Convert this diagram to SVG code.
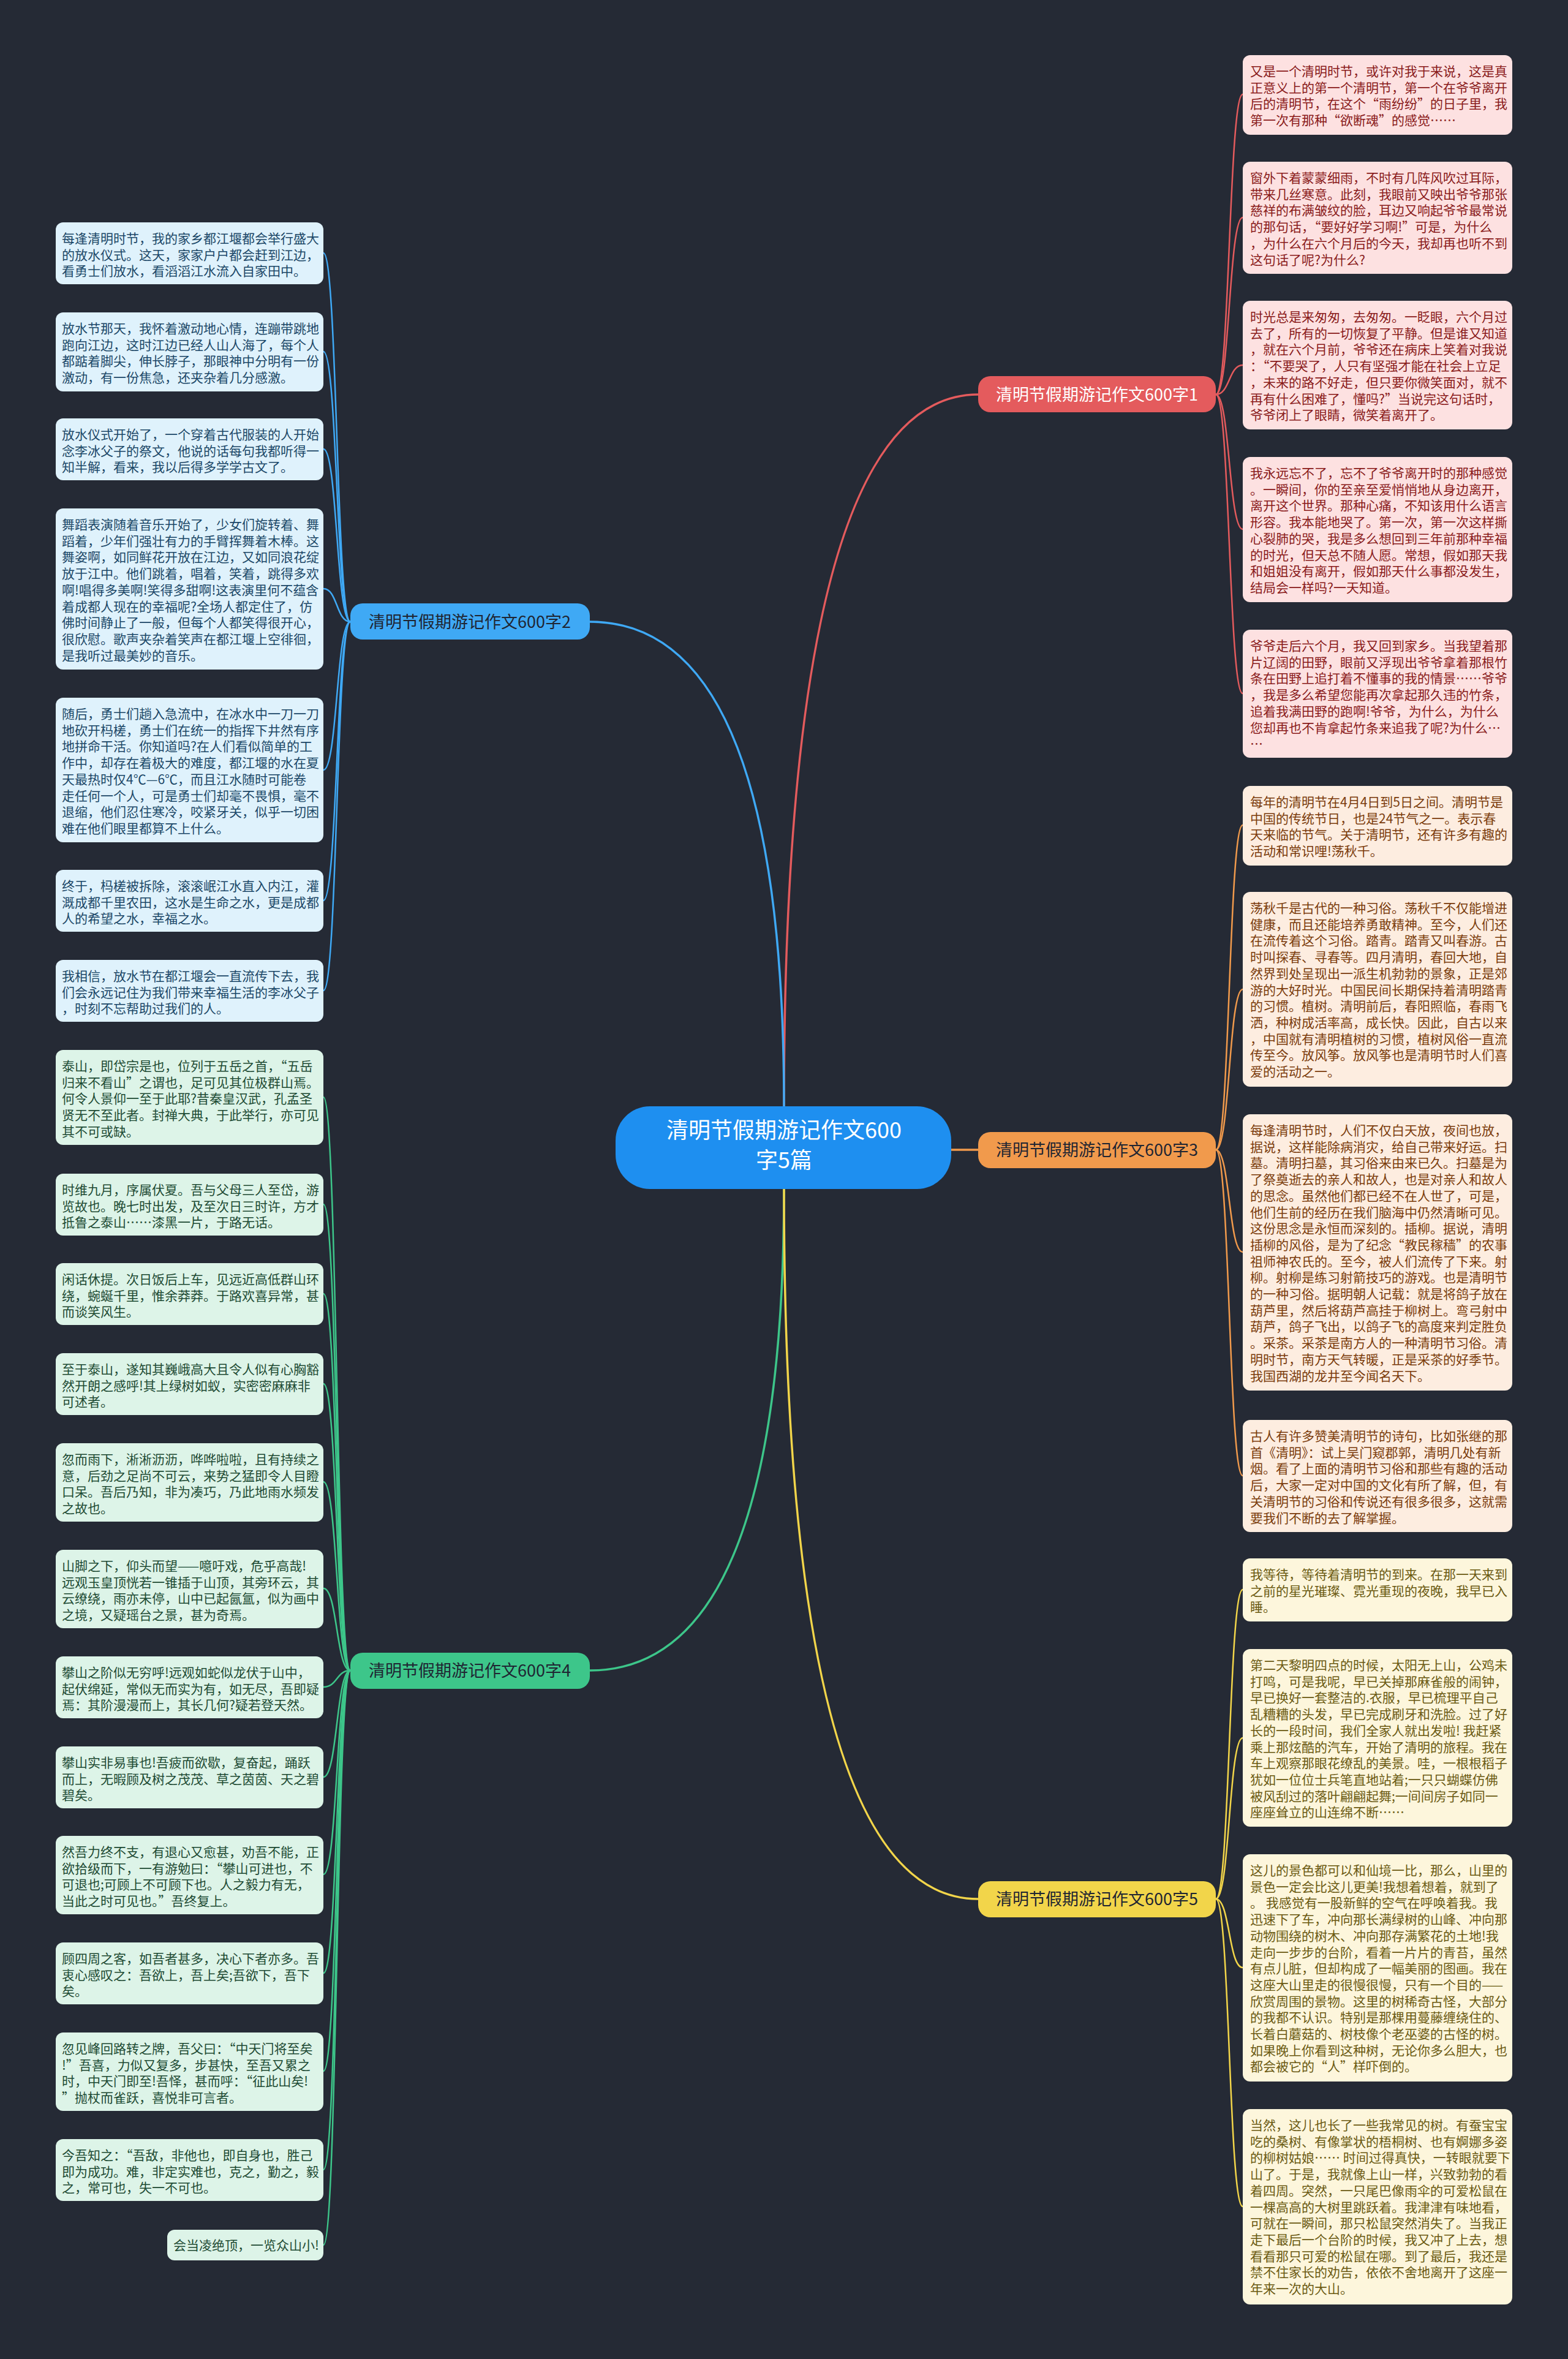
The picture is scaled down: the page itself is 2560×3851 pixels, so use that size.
<svg xmlns="http://www.w3.org/2000/svg" width="2560" height="3851" viewBox="0 0 2560 3851">
<style>
text{font-family:"Noto Sans CJK SC","Noto Sans",sans-serif;}
.lt{font-size:21px;}
.br{font-size:27px;text-anchor:middle;}
.ct{font-size:36px;text-anchor:middle;fill:#ffffff;}
.rb{fill:#fde1e1;} .rt{fill:#8a1b1b;}
.bb{fill:#dff2fc;} .bt{fill:#1c4868;}
.ob{fill:#fdede0;} .ot{fill:#7b3c0c;}
.gb{fill:#ddf4e8;} .gt{fill:#1e4b34;}
.yb{fill:#fdf6dc;} .yt{fill:#6b5a12;}
.c{fill:none;stroke-width:2.5;}
.cm{fill:none;stroke-width:3.5;}
.sr{stroke:#e45b5d;} .sb{stroke:#3fa9f5;} .so{stroke:#f19a4c;} .sg{stroke:#3dc68a;} .sy{stroke:#f2d54a;}
</style>
<rect x="0" y="0" width="2560" height="3851" fill="#252a35"/>

<g id="connectors">
<path class="cm sr" d="M1280 1806 Q1280 644 1597 644"/>
<path class="cm sb" d="M1280 1806 Q1280 1015 963 1015"/>
<path class="cm so" d="M1553 1877 L1597 1877"/>
<path class="cm sg" d="M1280 1941 Q1280 2727 963 2727"/>
<path class="cm sy" d="M1280 1941 Q1280 3100 1597 3100"/>

<path class="c sr" d="M1985 644 C2008 644 2006 154 2029 154"/>
<path class="c sr" d="M1985 644 C2008 644 2006 355 2029 355"/>
<path class="c sr" d="M1985 644 C2008 644 2006 596 2029 596"/>
<path class="c sr" d="M1985 644 C2008 644 2006 864 2029 864"/>
<path class="c sr" d="M1985 644 C2008 644 2006 1132 2029 1132"/>

<path class="c so" d="M1985 1877 C2008 1877 2006 1347 2029 1347"/>
<path class="c so" d="M1985 1877 C2008 1877 2006 1615 2029 1615"/>
<path class="c so" d="M1985 1877 C2008 1877 2006 2044 2029 2044"/>
<path class="c so" d="M1985 1877 C2008 1877 2006 2409 2029 2409"/>

<path class="c sy" d="M1985 3100 C2008 3100 2006 2595 2029 2595"/>
<path class="c sy" d="M1985 3100 C2008 3100 2006 2837 2029 2837"/>
<path class="c sy" d="M1985 3100 C2008 3100 2006 3212 2029 3212"/>
<path class="c sy" d="M1985 3100 C2008 3100 2006 3602 2029 3602"/>

<path class="c sb" d="M572 1015 C549 1015 551 413 528 413"/>
<path class="c sb" d="M572 1015 C549 1015 551 574 528 574"/>
<path class="c sb" d="M572 1015 C549 1015 551 733 528 733"/>
<path class="c sb" d="M572 1015 C549 1015 551 961 528 961"/>
<path class="c sb" d="M572 1015 C549 1015 551 1257 528 1257"/>
<path class="c sb" d="M572 1015 C549 1015 551 1470 528 1470"/>
<path class="c sb" d="M572 1015 C549 1015 551 1617 528 1617"/>

<path class="c sg" d="M572 2727 C549 2727 551 1791 528 1791"/>
<path class="c sg" d="M572 2727 C549 2727 551 1966 528 1966"/>
<path class="c sg" d="M572 2727 C549 2727 551 2112 528 2112"/>
<path class="c sg" d="M572 2727 C549 2727 551 2259 528 2259"/>
<path class="c sg" d="M572 2727 C549 2727 551 2419 528 2419"/>
<path class="c sg" d="M572 2727 C549 2727 551 2593 528 2593"/>
<path class="c sg" d="M572 2727 C549 2727 551 2754 528 2754"/>
<path class="c sg" d="M572 2727 C549 2727 551 2901 528 2901"/>
<path class="c sg" d="M572 2727 C549 2727 551 3060 528 3060"/>
<path class="c sg" d="M572 2727 C549 2727 551 3221 528 3221"/>
<path class="c sg" d="M572 2727 C549 2727 551 3381 528 3381"/>
<path class="c sg" d="M572 2727 C549 2727 551 3542 528 3542"/>
<path class="c sg" d="M572 2727 C549 2727 551 3665 528 3665"/>
</g>

<g id="root">
<rect x="1005" y="1806" width="548" height="135" rx="56" fill="#1e8ff0"/>
<text class="ct" x="1280" y="1858">清明节假期游记作文600</text>
<text class="ct" x="1280" y="1907">字5篇</text>
</g>

<g id="branch1"><rect x="1597" y="614" width="388" height="59" rx="20" fill="#e45b5d"/><text class="br" x="1791" y="654" fill="#ffffff">清明节假期游记作文600字1</text></g>
<g id="branch2"><rect x="572" y="985" width="391" height="59" rx="20" fill="#3fa9f5"/><text class="br" x="767" y="1025" fill="#1f2532">清明节假期游记作文600字2</text></g>
<g id="branch3"><rect x="1597" y="1848" width="388" height="59" rx="20" fill="#f19a4c"/><text class="br" x="1791" y="1887" fill="#1f2532">清明节假期游记作文600字3</text></g>
<g id="branch4"><rect x="572" y="2698" width="391" height="59" rx="20" fill="#3dc68a"/><text class="br" x="767" y="2737" fill="#1f2532">清明节假期游记作文600字4</text></g>
<g id="branch5"><rect x="1597" y="3071" width="388" height="59" rx="20" fill="#f2d54a"/><text class="br" x="1791" y="3110" fill="#1f2532">清明节假期游记作文600字5</text></g>

<g id="r1"><rect class="rb" x="2029" y="90" width="440" height="130" rx="12"/><text class="lt rt" y="124"><tspan x="2041">又是一个清明时节，或许对我于来说，这是真</tspan><tspan x="2041" dy="26.7">正意义上的第一个清明节，第一个在爷爷离开</tspan><tspan x="2041" dy="26.7">后的清明节，在这个“雨纷纷”的日子里，我</tspan><tspan x="2041" dy="26.7">第一次有那种“欲断魂”的感觉……</tspan></text></g>
<g id="r2"><rect class="rb" x="2029" y="264" width="440" height="183" rx="12"/><text class="lt rt" y="298"><tspan x="2041">窗外下着蒙蒙细雨，不时有几阵风吹过耳际，</tspan><tspan x="2041" dy="26.7">带来几丝寒意。此刻，我眼前又映出爷爷那张</tspan><tspan x="2041" dy="26.7">慈祥的布满皱纹的脸，耳边又响起爷爷最常说</tspan><tspan x="2041" dy="26.7">的那句话，“要好好学习啊!”可是，为什么</tspan><tspan x="2041" dy="26.7">，为什么在六个月后的今天，我却再也听不到</tspan><tspan x="2041" dy="26.7">这句话了呢?为什么?</tspan></text></g>
<g id="r3"><rect class="rb" x="2029" y="491" width="440" height="210" rx="12"/><text class="lt rt" y="525"><tspan x="2041">时光总是来匆匆，去匆匆。一眨眼，六个月过</tspan><tspan x="2041" dy="26.7">去了，所有的一切恢复了平静。但是谁又知道</tspan><tspan x="2041" dy="26.7">，就在六个月前，爷爷还在病床上笑着对我说</tspan><tspan x="2041" dy="26.7">：“不要哭了，人只有坚强才能在社会上立足</tspan><tspan x="2041" dy="26.7">，未来的路不好走，但只要你微笑面对，就不</tspan><tspan x="2041" dy="26.7">再有什么困难了，懂吗?”当说完这句话时，</tspan><tspan x="2041" dy="26.7">爷爷闭上了眼睛，微笑着离开了。</tspan></text></g>
<g id="r4"><rect class="rb" x="2029" y="746" width="440" height="237" rx="12"/><text class="lt rt" y="780"><tspan x="2041">我永远忘不了，忘不了爷爷离开时的那种感觉</tspan><tspan x="2041" dy="26.7">。一瞬间，你的至亲至爱悄悄地从身边离开，</tspan><tspan x="2041" dy="26.7">离开这个世界。那种心痛，不知该用什么语言</tspan><tspan x="2041" dy="26.7">形容。我本能地哭了。第一次，第一次这样撕</tspan><tspan x="2041" dy="26.7">心裂肺的哭，我是多么想回到三年前那种幸福</tspan><tspan x="2041" dy="26.7">的时光，但天总不随人愿。常想，假如那天我</tspan><tspan x="2041" dy="26.7">和姐姐没有离开，假如那天什么事都没发生，</tspan><tspan x="2041" dy="26.7">结局会一样吗?一天知道。</tspan></text></g>
<g id="r5"><rect class="rb" x="2029" y="1028" width="440" height="209" rx="12"/><text class="lt rt" y="1062"><tspan x="2041">爷爷走后六个月，我又回到家乡。当我望着那</tspan><tspan x="2041" dy="26.7">片辽阔的田野，眼前又浮现出爷爷拿着那根竹</tspan><tspan x="2041" dy="26.7">条在田野上追打着不懂事的我的情景……爷爷</tspan><tspan x="2041" dy="26.7">，我是多么希望您能再次拿起那久违的竹条，</tspan><tspan x="2041" dy="26.7">追着我满田野的跑啊!爷爷，为什么，为什么</tspan><tspan x="2041" dy="26.7">您却再也不肯拿起竹条来追我了呢?为什么…</tspan><tspan x="2041" dy="26.7">…</tspan></text></g>

<g id="o1"><rect class="ob" x="2029" y="1283" width="440" height="130" rx="12"/><text class="lt ot" y="1317"><tspan x="2041">每年的清明节在4月4日到5日之间。清明节是</tspan><tspan x="2041" dy="26.7">中国的传统节日，也是24节气之一。表示春</tspan><tspan x="2041" dy="26.7">天来临的节气。关于清明节，还有许多有趣的</tspan><tspan x="2041" dy="26.7">活动和常识哩!荡秋千。</tspan></text></g>
<g id="o2"><rect class="ob" x="2029" y="1456" width="440" height="318" rx="12"/><text class="lt ot" y="1490"><tspan x="2041">荡秋千是古代的一种习俗。荡秋千不仅能增进</tspan><tspan x="2041" dy="26.7">健康，而且还能培养勇敢精神。至今，人们还</tspan><tspan x="2041" dy="26.7">在流传着这个习俗。踏青。踏青又叫春游。古</tspan><tspan x="2041" dy="26.7">时叫探春、寻春等。四月清明，春回大地，自</tspan><tspan x="2041" dy="26.7">然界到处呈现出一派生机勃勃的景象，正是郊</tspan><tspan x="2041" dy="26.7">游的大好时光。中国民间长期保持着清明踏青</tspan><tspan x="2041" dy="26.7">的习惯。植树。清明前后，春阳照临，春雨飞</tspan><tspan x="2041" dy="26.7">洒，种树成活率高，成长快。因此，自古以来</tspan><tspan x="2041" dy="26.7">，中国就有清明植树的习惯，植树风俗一直流</tspan><tspan x="2041" dy="26.7">传至今。放风筝。放风筝也是清明节时人们喜</tspan><tspan x="2041" dy="26.7">爱的活动之一。</tspan></text></g>
<g id="o3"><rect class="ob" x="2029" y="1819" width="440" height="451" rx="12"/><text class="lt ot" y="1853"><tspan x="2041">每逢清明节时，人们不仅白天放，夜间也放，</tspan><tspan x="2041" dy="26.7">据说，这样能除病消灾，给自己带来好运。扫</tspan><tspan x="2041" dy="26.7">墓。清明扫墓，其习俗来由来已久。扫墓是为</tspan><tspan x="2041" dy="26.7">了祭奠逝去的亲人和故人，也是对亲人和故人</tspan><tspan x="2041" dy="26.7">的思念。虽然他们都已经不在人世了，可是，</tspan><tspan x="2041" dy="26.7">他们生前的经历在我们脑海中仍然清晰可见。</tspan><tspan x="2041" dy="26.7">这份思念是永恒而深刻的。插柳。据说，清明</tspan><tspan x="2041" dy="26.7">插柳的风俗，是为了纪念“教民稼穑”的农事</tspan><tspan x="2041" dy="26.7">祖师神农氏的。至今，被人们流传了下来。射</tspan><tspan x="2041" dy="26.7">柳。射柳是练习射箭技巧的游戏。也是清明节</tspan><tspan x="2041" dy="26.7">的一种习俗。据明朝人记载：就是将鸽子放在</tspan><tspan x="2041" dy="26.7">葫芦里，然后将葫芦高挂于柳树上。弯弓射中</tspan><tspan x="2041" dy="26.7">葫芦，鸽子飞出，以鸽子飞的高度来判定胜负</tspan><tspan x="2041" dy="26.7">。采茶。采茶是南方人的一种清明节习俗。清</tspan><tspan x="2041" dy="26.7">明时节，南方天气转暖，正是采茶的好季节。</tspan><tspan x="2041" dy="26.7">我国西湖的龙井至今闻名天下。</tspan></text></g>
<g id="o4"><rect class="ob" x="2029" y="2318" width="440" height="183" rx="12"/><text class="lt ot" y="2352"><tspan x="2041">古人有许多赞美清明节的诗句，比如张继的那</tspan><tspan x="2041" dy="26.7">首《清明》：试上吴门窥郡郭，清明几处有新</tspan><tspan x="2041" dy="26.7">烟。看了上面的清明节习俗和那些有趣的活动</tspan><tspan x="2041" dy="26.7">后，大家一定对中国的文化有所了解，但，有</tspan><tspan x="2041" dy="26.7">关清明节的习俗和传说还有很多很多，这就需</tspan><tspan x="2041" dy="26.7">要我们不断的去了解掌握。</tspan></text></g>

<g id="y1"><rect class="yb" x="2029" y="2544" width="440" height="103" rx="12"/><text class="lt yt" y="2578"><tspan x="2041">我等待，等待着清明节的到来。在那一天来到</tspan><tspan x="2041" dy="26.7">之前的星光璀璨、霓光重现的夜晚，我早已入</tspan><tspan x="2041" dy="26.7">睡。</tspan></text></g>
<g id="y2"><rect class="yb" x="2029" y="2692" width="440" height="290" rx="12"/><text class="lt yt" y="2726"><tspan x="2041">第二天黎明四点的时候，太阳无上山，公鸡未</tspan><tspan x="2041" dy="26.7">打鸣，可是我呢，早已关掉那麻雀般的闹钟，</tspan><tspan x="2041" dy="26.7">早已换好一套整洁的.衣服，早已梳理平自己</tspan><tspan x="2041" dy="26.7">乱糟糟的头发，早已完成刷牙和洗脸。过了好</tspan><tspan x="2041" dy="26.7">长的一段时间，我们全家人就出发啦! 我赶紧</tspan><tspan x="2041" dy="26.7">乘上那炫酷的汽车，开始了清明的旅程。我在</tspan><tspan x="2041" dy="26.7">车上观察那眼花缭乱的美景。哇，一根根稻子</tspan><tspan x="2041" dy="26.7">犹如一位位士兵笔直地站着;一只只蝴蝶仿佛</tspan><tspan x="2041" dy="26.7">被风刮过的落叶翩翩起舞;一间间房子如同一</tspan><tspan x="2041" dy="26.7">座座耸立的山连绵不断……</tspan></text></g>
<g id="y3"><rect class="yb" x="2029" y="3027" width="440" height="371" rx="12"/><text class="lt yt" y="3061"><tspan x="2041">这儿的景色都可以和仙境一比，那么，山里的</tspan><tspan x="2041" dy="26.7">景色一定会比这儿更美!我想着想着，就到了</tspan><tspan x="2041" dy="26.7">。 我感觉有一股新鲜的空气在呼唤着我。我</tspan><tspan x="2041" dy="26.7">迅速下了车，冲向那长满绿树的山峰、冲向那</tspan><tspan x="2041" dy="26.7">动物围绕的树木、冲向那存满繁花的土地!我</tspan><tspan x="2041" dy="26.7">走向一步步的台阶，看着一片片的青苔，虽然</tspan><tspan x="2041" dy="26.7">有点儿脏，但却构成了一幅美丽的图画。我在</tspan><tspan x="2041" dy="26.7">这座大山里走的很慢很慢，只有一个目的——</tspan><tspan x="2041" dy="26.7">欣赏周围的景物。这里的树稀奇古怪，大部分</tspan><tspan x="2041" dy="26.7">的我都不认识。特别是那棵用蔓藤缠绕住的、</tspan><tspan x="2041" dy="26.7">长着白蘑菇的、树枝像个老巫婆的古怪的树。</tspan><tspan x="2041" dy="26.7">如果晚上你看到这种树，无论你多么胆大，也</tspan><tspan x="2041" dy="26.7">都会被它的“人”样吓倒的。</tspan></text></g>
<g id="y4"><rect class="yb" x="2029" y="3443" width="440" height="319" rx="12"/><text class="lt yt" y="3477"><tspan x="2041">当然，这儿也长了一些我常见的树。有蚕宝宝</tspan><tspan x="2041" dy="26.7">吃的桑树、有像掌状的梧桐树、也有婀娜多姿</tspan><tspan x="2041" dy="26.7">的柳树姑娘…… 时间过得真快，一转眼就要下</tspan><tspan x="2041" dy="26.7">山了。于是，我就像上山一样，兴致勃勃的看</tspan><tspan x="2041" dy="26.7">着四周。突然，一只尾巴像雨伞的可爱松鼠在</tspan><tspan x="2041" dy="26.7">一棵高高的大树里跳跃着。我津津有味地看，</tspan><tspan x="2041" dy="26.7">可就在一瞬间，那只松鼠突然消失了。当我正</tspan><tspan x="2041" dy="26.7">走下最后一个台阶的时候，我又冲了上去，想</tspan><tspan x="2041" dy="26.7">看看那只可爱的松鼠在哪。到了最后，我还是</tspan><tspan x="2041" dy="26.7">禁不住家长的劝告，依依不舍地离开了这座一</tspan><tspan x="2041" dy="26.7">年来一次的大山。</tspan></text></g>

<g id="b1"><rect class="bb" x="91" y="363" width="437" height="101" rx="12"/><text class="lt bt" y="397"><tspan x="101">每逢清明时节，我的家乡都江堰都会举行盛大</tspan><tspan x="101" dy="26.7">的放水仪式。这天，家家户户都会赶到江边，</tspan><tspan x="101" dy="26.7">看勇士们放水，看滔滔江水流入自家田中。</tspan></text></g>
<g id="b2"><rect class="bb" x="91" y="510" width="437" height="129" rx="12"/><text class="lt bt" y="544"><tspan x="101">放水节那天，我怀着激动地心情，连蹦带跳地</tspan><tspan x="101" dy="26.7">跑向江边，这时江边已经人山人海了，每个人</tspan><tspan x="101" dy="26.7">都踮着脚尖，伸长脖子，那眼神中分明有一份</tspan><tspan x="101" dy="26.7">激动，有一份焦急，还夹杂着几分感激。</tspan></text></g>
<g id="b3"><rect class="bb" x="91" y="683" width="437" height="101" rx="12"/><text class="lt bt" y="717"><tspan x="101">放水仪式开始了，一个穿着古代服装的人开始</tspan><tspan x="101" dy="26.7">念李冰父子的祭文，他说的话每句我都听得一</tspan><tspan x="101" dy="26.7">知半解，看来，我以后得多学学古文了。</tspan></text></g>
<g id="b4"><rect class="bb" x="91" y="830" width="437" height="263" rx="12"/><text class="lt bt" y="864"><tspan x="101">舞蹈表演随着音乐开始了，少女们旋转着、舞</tspan><tspan x="101" dy="26.7">蹈着，少年们强壮有力的手臂挥舞着木棒。这</tspan><tspan x="101" dy="26.7">舞姿啊，如同鲜花开放在江边，又如同浪花绽</tspan><tspan x="101" dy="26.7">放于江中。他们跳着，唱着，笑着，跳得多欢</tspan><tspan x="101" dy="26.7">啊!唱得多美啊!笑得多甜啊!这表演里何不蕴含</tspan><tspan x="101" dy="26.7">着成都人现在的幸福呢?全场人都定住了，仿</tspan><tspan x="101" dy="26.7">佛时间静止了一般，但每个人都笑得很开心，</tspan><tspan x="101" dy="26.7">很欣慰。歌声夹杂着笑声在都江堰上空徘徊，</tspan><tspan x="101" dy="26.7">是我听过最美妙的音乐。</tspan></text></g>
<g id="b5"><rect class="bb" x="91" y="1139" width="437" height="236" rx="12"/><text class="lt bt" y="1173"><tspan x="101">随后，勇士们趟入急流中，在冰水中一刀一刀</tspan><tspan x="101" dy="26.7">地砍开杩槎，勇士们在统一的指挥下井然有序</tspan><tspan x="101" dy="26.7">地拼命干活。你知道吗?在人们看似简单的工</tspan><tspan x="101" dy="26.7">作中，却存在着极大的难度，都江堰的水在夏</tspan><tspan x="101" dy="26.7">天最热时仅4℃—6℃，而且江水随时可能卷</tspan><tspan x="101" dy="26.7">走任何一个人，可是勇士们却毫不畏惧，毫不</tspan><tspan x="101" dy="26.7">退缩，他们忍住寒冷，咬紧牙关，似乎一切困</tspan><tspan x="101" dy="26.7">难在他们眼里都算不上什么。</tspan></text></g>
<g id="b6"><rect class="bb" x="91" y="1420" width="437" height="101" rx="12"/><text class="lt bt" y="1454"><tspan x="101">终于，杩槎被拆除，滚滚岷江水直入内江，灌</tspan><tspan x="101" dy="26.7">溉成都千里农田，这水是生命之水，更是成都</tspan><tspan x="101" dy="26.7">人的希望之水，幸福之水。</tspan></text></g>
<g id="b7"><rect class="bb" x="91" y="1567" width="437" height="101" rx="12"/><text class="lt bt" y="1601"><tspan x="101">我相信，放水节在都江堰会一直流传下去，我</tspan><tspan x="101" dy="26.7">们会永远记住为我们带来幸福生活的李冰父子</tspan><tspan x="101" dy="26.7">，时刻不忘帮助过我们的人。</tspan></text></g>

<g id="g1"><rect class="gb" x="91" y="1714" width="437" height="155" rx="12"/><text class="lt gt" y="1748"><tspan x="101">泰山，即岱宗是也，位列于五岳之首，“五岳</tspan><tspan x="101" dy="26.7">归来不看山”之谓也，足可见其位极群山焉。</tspan><tspan x="101" dy="26.7">何令人景仰一至于此耶?昔秦皇汉武，孔孟圣</tspan><tspan x="101" dy="26.7">贤无不至此者。封禅大典，于此举行，亦可见</tspan><tspan x="101" dy="26.7">其不可或缺。</tspan></text></g>
<g id="g2"><rect class="gb" x="91" y="1916" width="437" height="101" rx="12"/><text class="lt gt" y="1950"><tspan x="101">时维九月，序属伏夏。吾与父母三人至岱，游</tspan><tspan x="101" dy="26.7">览故也。晚七时出发，及至次日三时许，方才</tspan><tspan x="101" dy="26.7">抵鲁之泰山……漆黑一片，于路无话。</tspan></text></g>
<g id="g3"><rect class="gb" x="91" y="2062" width="437" height="101" rx="12"/><text class="lt gt" y="2096"><tspan x="101">闲话休提。次日饭后上车，见远近高低群山环</tspan><tspan x="101" dy="26.7">绕，蜿蜒千里，惟余莽莽。于路欢喜异常，甚</tspan><tspan x="101" dy="26.7">而谈笑风生。</tspan></text></g>
<g id="g4"><rect class="gb" x="91" y="2209" width="437" height="101" rx="12"/><text class="lt gt" y="2243"><tspan x="101">至于泰山，遂知其巍峨高大且令人似有心胸豁</tspan><tspan x="101" dy="26.7">然开朗之感呼!其上绿树如蚁，实密密麻麻非</tspan><tspan x="101" dy="26.7">可述者。</tspan></text></g>
<g id="g5"><rect class="gb" x="91" y="2356" width="437" height="128" rx="12"/><text class="lt gt" y="2390"><tspan x="101">忽而雨下，淅淅沥沥，哗哗啦啦，且有持续之</tspan><tspan x="101" dy="26.7">意，后劲之足尚不可云，来势之猛即令人目瞪</tspan><tspan x="101" dy="26.7">口呆。吾后乃知，非为凑巧，乃此地雨水频发</tspan><tspan x="101" dy="26.7">之故也。</tspan></text></g>
<g id="g6"><rect class="gb" x="91" y="2530" width="437" height="128" rx="12"/><text class="lt gt" y="2564"><tspan x="101">山脚之下，仰头而望——噫吁戏，危乎高哉!</tspan><tspan x="101" dy="26.7">远观玉皇顶恍若一锥插于山顶，其旁环云，其</tspan><tspan x="101" dy="26.7">云缭绕，雨亦未停，山中已起氤氲，似为画中</tspan><tspan x="101" dy="26.7">之境，又疑瑶台之景，甚为奇焉。</tspan></text></g>
<g id="g7"><rect class="gb" x="91" y="2704" width="437" height="101" rx="12"/><text class="lt gt" y="2738"><tspan x="101">攀山之阶似无穷呼!远观如蛇似龙伏于山中，</tspan><tspan x="101" dy="26.7">起伏绵延，常似无而实为有，如无尽，吾即疑</tspan><tspan x="101" dy="26.7">焉：其阶漫漫而上，其长几何?疑若登天然。</tspan></text></g>
<g id="g8"><rect class="gb" x="91" y="2851" width="437" height="101" rx="12"/><text class="lt gt" y="2885"><tspan x="101">攀山实非易事也!吾疲而欲歇，复奋起，踊跃</tspan><tspan x="101" dy="26.7">而上，无暇顾及树之茂茂、草之茵茵、天之碧</tspan><tspan x="101" dy="26.7">碧矣。</tspan></text></g>
<g id="g9"><rect class="gb" x="91" y="2997" width="437" height="128" rx="12"/><text class="lt gt" y="3031"><tspan x="101">然吾力终不支，有退心又愈甚，劝吾不能，正</tspan><tspan x="101" dy="26.7">欲拾级而下，一有游勉曰：“攀山可进也，不</tspan><tspan x="101" dy="26.7">可退也;可顾上不可顾下也。人之毅力有无，</tspan><tspan x="101" dy="26.7">当此之时可见也。”吾终复上。</tspan></text></g>
<g id="g10"><rect class="gb" x="91" y="3171" width="437" height="101" rx="12"/><text class="lt gt" y="3205"><tspan x="101">顾四周之客，如吾者甚多，决心下者亦多。吾</tspan><tspan x="101" dy="26.7">衷心感叹之：吾欲上，吾上矣;吾欲下，吾下</tspan><tspan x="101" dy="26.7">矣。</tspan></text></g>
<g id="g11"><rect class="gb" x="91" y="3318" width="437" height="128" rx="12"/><text class="lt gt" y="3352"><tspan x="101">忽见峰回路转之牌，吾父曰：“中天门将至矣</tspan><tspan x="101" dy="26.7">!”吾喜，力似又复多，步甚快，至吾又累之</tspan><tspan x="101" dy="26.7">时，中天门即至!吾怿，甚而呼：“征此山矣!</tspan><tspan x="101" dy="26.7">”抛杖而雀跃，喜悦非可言者。</tspan></text></g>
<g id="g12"><rect class="gb" x="91" y="3492" width="437" height="101" rx="12"/><text class="lt gt" y="3526"><tspan x="101">今吾知之：“吾敌，非他也，即自身也，胜己</tspan><tspan x="101" dy="26.7">即为成功。难，非定实难也，克之，勤之，毅</tspan><tspan x="101" dy="26.7">之，常可也，失一不可也。</tspan></text></g>
<g id="g13"><rect class="gb" x="273" y="3640" width="255" height="50" rx="12"/><text class="lt gt" x="283" y="3673">会当凌绝顶，一览众山小!</text></g>
</svg>
